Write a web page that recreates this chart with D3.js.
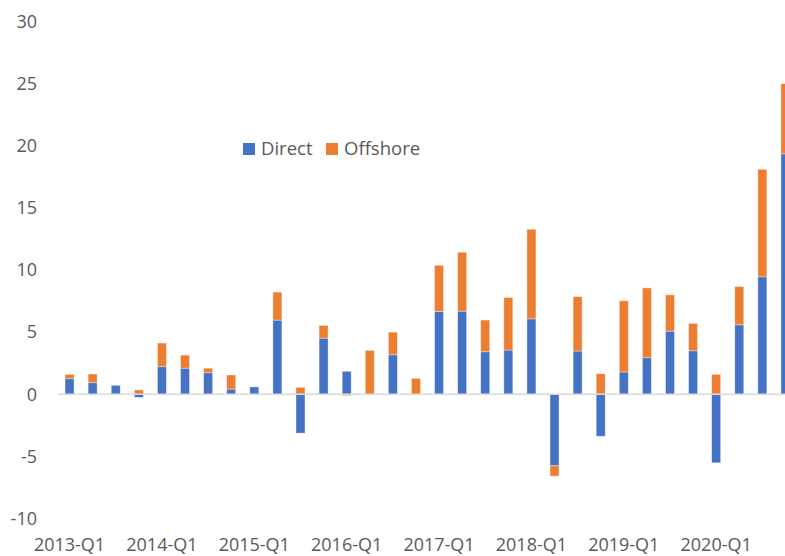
<!DOCTYPE html>
<html>
<head>
<meta charset="utf-8">
<script src="https://cdn.jsdelivr.net/npm/d3@7"></script>
<style>
    body { margin: 0; background: #fff; }
    text { font-family: "Open Sans", sans-serif; fill: #595959; }
</style>
</head>
<body>
<div id="chart"></div>
<script>
    // quarters 2013-Q1 .. 2020-Q4
    var quarters = [];
    [2013, 2014, 2015, 2016, 2017, 2018, 2019, 2020].forEach(function (y) {
        [1, 2, 3, 4].forEach(function (q) { quarters.push(y + "-Q" + q); });
    });

    var direct = [1.25, 0.93, 0.72, -0.25, 2.22, 2.1, 1.73, 0.42,
        0.59, 5.97, -3.13, 4.52, 1.85, 0, 3.18, 0,
        6.65, 6.69, 3.42, 3.56, 6.07, -5.76, 3.48, -3.38,
        1.79, 2.94, 5.08, 3.5, -5.52, 5.59, 9.45, 19.35];
    var offshore = [0.35, 0.7, 0, 0.35, 1.9, 1.05, 0.37, 1.13,
        -0.05, 2.25, 0.56, 1.02, -0.11, 3.53, 1.82, 1.28,
        3.73, 4.74, 2.55, 4.23, 7.21, -0.83, 4.37, 1.65,
        5.73, 5.62, 2.92, 2.2, 1.6, 3.08, 8.65, 5.65];
    var yTicks = [-10, -5, 0, 5, 10, 15, 20, 25, 30];
    var seriesNames = ["Direct", "Offshore"];
    var colors = ["#4472C4", "#ED7D31"];

    var width = 785, height = 556;
    var plotLeft = 58, plotRight = 797;

    var svg = d3.select("#chart").append("svg")
        .attr("width", width)
        .attr("height", height);

    var x = d3.scaleBand().domain(quarters).range([plotLeft, plotRight]).paddingInner(0.61).paddingOuter(0.305);
    var y = d3.scaleLinear().domain([-10, 30]).range([518.5, 21.5]);

    // y labels
    svg.selectAll(".ylab")
        .data(yTicks)
        .enter()
        .append("text")
        .attr("class", "ylab")
        .attr("x", 37)
        .attr("y", function (d) { return y(d); })
        .attr("dy", "0.35em")
        .attr("text-anchor", "end")
        .style("font-size", "18px")
        .text(function (d) { return d; });

    // stack positive and negative separately, like Excel
    var rows = quarters.map(function (q, i) {
        return { q: q, vals: [direct[i], offshore[i]] };
    });
    var segs = [];
    rows.forEach(function (r) {
        var pos = 0, neg = 0;
        r.vals.forEach(function (v, k) {
            var y0, y1;
            if (v >= 0) { y0 = pos; y1 = pos + v; pos = y1; }
            else { y0 = neg; y1 = neg + v; neg = y1; }
            segs.push({ q: r.q, k: k, y0: y0, y1: y1 });
        });
    });

    svg.selectAll(".bar")
        .data(segs.filter(function (s) { return s.y0 !== s.y1; }))
        .enter()
        .append("rect")
        .attr("class", "bar")
        .attr("x", function (d) { return x(d.q); })
        .attr("width", x.bandwidth())
        .attr("y", function (d) { return y(Math.max(d.y0, d.y1)); })
        .attr("height", function (d) { return Math.abs(y(d.y0) - y(d.y1)); })
        .attr("fill", function (d) { return colors[d.k]; })
        .attr("stroke", "#fff")
        .attr("stroke-opacity", 0.5)
        .attr("stroke-width", 0.75);

    // zero line
    svg.append("line")
        .attr("x1", plotLeft).attr("x2", plotRight)
        .attr("y1", y(0)).attr("y2", y(0))
        .attr("stroke", "#D9D9D9")
        .attr("stroke-width", 1.5);

    // x labels every 4 quarters
    svg.selectAll(".xlab")
        .data(quarters.filter(function (q, i) { return i % 4 === 0; }))
        .enter()
        .append("text")
        .attr("class", "xlab")
        .attr("x", function (d) { return x(d) + x.bandwidth() / 2; })
        .attr("y", 545)
        .attr("dy", "0.35em")
        .attr("text-anchor", "middle")
        .style("font-size", "18px")
        .text(function (d) { return d; });

    // legend
    var legX = [243, 326];
    var leg = svg.selectAll(".leg")
        .data(seriesNames)
        .enter()
        .append("g")
        .attr("class", "leg")
        .attr("transform", function (d, i) { return "translate(" + legX[i] + ",143)"; });
    leg.append("rect")
        .attr("width", 12).attr("height", 12)
        .attr("fill", function (d, i) { return colors[i]; });
    leg.append("text")
        .attr("x", 18).attr("y", 6)
        .attr("dy", "0.35em")
        .style("font-size", "18.5px")
        .text(function (d) { return d; });
</script>
</body>
</html>
